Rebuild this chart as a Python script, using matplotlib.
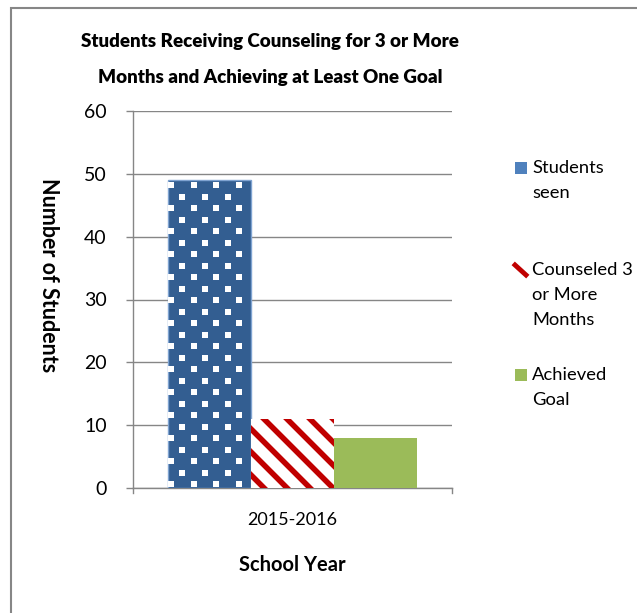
import numpy as np
import matplotlib.pyplot as plt
from matplotlib.patches import Rectangle

plt.rcParams['font.family'] = ['Lato', 'DejaVu Sans']

# dados
categorias = ['2015-2016']
series = ['Students\nseen', 'Counseled 3\nor More\nMonths', 'Achieved\nGoal']
valores = [49, 11, 8]
yticks = [0, 10, 20, 30, 40, 50, 60]

W, H = 637, 613
fig = plt.figure(figsize=(W / 100, H / 100), dpi=100)

# moldura externa (só topo e esquerda visíveis)
fig.patches.append(Rectangle((11 / W, -0.1), 1.2, 1 - 7.5 / H + 0.1, transform=fig.transFigure,
                             fill=False, edgecolor='#868686', linewidth=1.5))

ax = fig.add_axes([133 / W, 1 - 488 / H, (452 - 133) / W, (488 - 111) / H])

largura = 0.26
pos = [-largura, 0, largura]
cor_azul = '#335E91'
cor_verm = '#C00000'
cor_verde = '#9BBB59'

b_azul = ax.bar(pos[0], valores[0], width=largura, color=cor_azul, edgecolor='#7FA3D1',
                linewidth=1.0, zorder=3)[0]
b_verm = ax.bar(pos[1], valores[1], width=largura, color='white', linewidth=0, zorder=3)[0]
b_verde = ax.bar(pos[2], valores[2], width=largura, color=cor_verde, linewidth=0, zorder=3)[0]

ax.set_xlim(-0.5, 0.5)
ax.set_ylim(0, 60)
ax.set_yticks(yticks)
ax.set_xticks([0])
ax.set_xticklabels(categorias, fontsize=13)
ax.tick_params(axis='y', length=5, width=1, color='#868686', pad=14, labelsize=14)
ax.tick_params(axis='x', length=0, pad=17)
ax.grid(axis='y', color='#868686', linewidth=1.0, zorder=0)
ax.set_axisbelow(True)
for lado in ['top', 'right']:
    ax.spines[lado].set_visible(False)
ax.spines['left'].set_color('#868686')
ax.spines['bottom'].set_color('#868686')
ax.spines['left'].set_linewidth(1.0)
ax.spines['bottom'].set_linewidth(1.0)
# marcas nas extremidades do eixo x
for xx in [-0.5, 0.5]:
    ax.plot([xx, xx], [0, -0.8], color='#868686', lw=1.0, clip_on=False, zorder=4)

fig.canvas.draw()

# padrão de pontos brancos no azul
bb = b_azul.get_window_extent()
px, py = [], []
j = 0
for y in np.arange(bb.y0 + 4, bb.y1 - 2, 11.5):
    off = 0 if j % 2 == 0 else 11.35
    for x in np.arange(bb.x0 + 3 + off, bb.x1 - 1, 22.7):
        px.append(x)
        py.append(y)
    j += 1
sc = ax.scatter(px, py, marker='s', s=14, color='white', linewidths=0, transform=None, zorder=4)
sc.set_clip_path(b_azul)

# listras diagonais vermelhas
bb = b_verm.get_window_extent()
alt = bb.y1 - bb.y0
for x0 in np.arange(bb.x0 - alt - 30, bb.x1 + 30, 23):
    ln, = ax.plot([x0, x0 + alt + 40], [bb.y1 + 20, bb.y1 - alt - 20], color=cor_verm,
                  lw=4.0, transform=None, zorder=4, solid_capstyle='butt')
    ln.set_clip_path(b_verm)

# títulos
fig.text(270 / W, 1 - 42 / H, 'Students Receiving Counseling for 3 or More',
         ha='center', va='center', fontsize=13.5, fontweight='heavy')
fig.text(270 / W, 1 - 77 / H, 'Months and Achieving at Least One Goal',
         ha='center', va='center', fontsize=13.5, fontweight='heavy')
fig.text(48 / W, 1 - 275 / H, 'Number of Students', rotation=-90,
         ha='center', va='center', fontsize=15.5, fontweight='bold')
fig.text(292 / W, 1 - 565 / H, 'School Year', ha='center', va='center',
         fontsize=14.5, fontweight='bold')

# legenda manual
leg_y = [168, 270, 375]
leg_cores = ['#4F81BD', None, cor_verde]
for i, rot in enumerate(series):
    yc = leg_y[i]
    if leg_cores[i] is not None:
        fig.patches.append(Rectangle((515 / W, 1 - (yc + 6) / H), 12 / W, 12 / H,
                                     transform=fig.transFigure, facecolor=leg_cores[i],
                                     edgecolor='none'))
    else:
        fig.lines.append(plt.Line2D([515 / W, 526 / W], [1 - (yc - 5) / H, 1 - (yc + 5) / H],
                                    transform=fig.transFigure, color=cor_verm, lw=3.5))
    for k, linha in enumerate(rot.split('\n')):
        fig.text(532 / W, 1 - (yc + 25 * k) / H, linha, ha='left', va='center', fontsize=13.2)

fig.savefig('out.png', dpi=100, facecolor='white')
